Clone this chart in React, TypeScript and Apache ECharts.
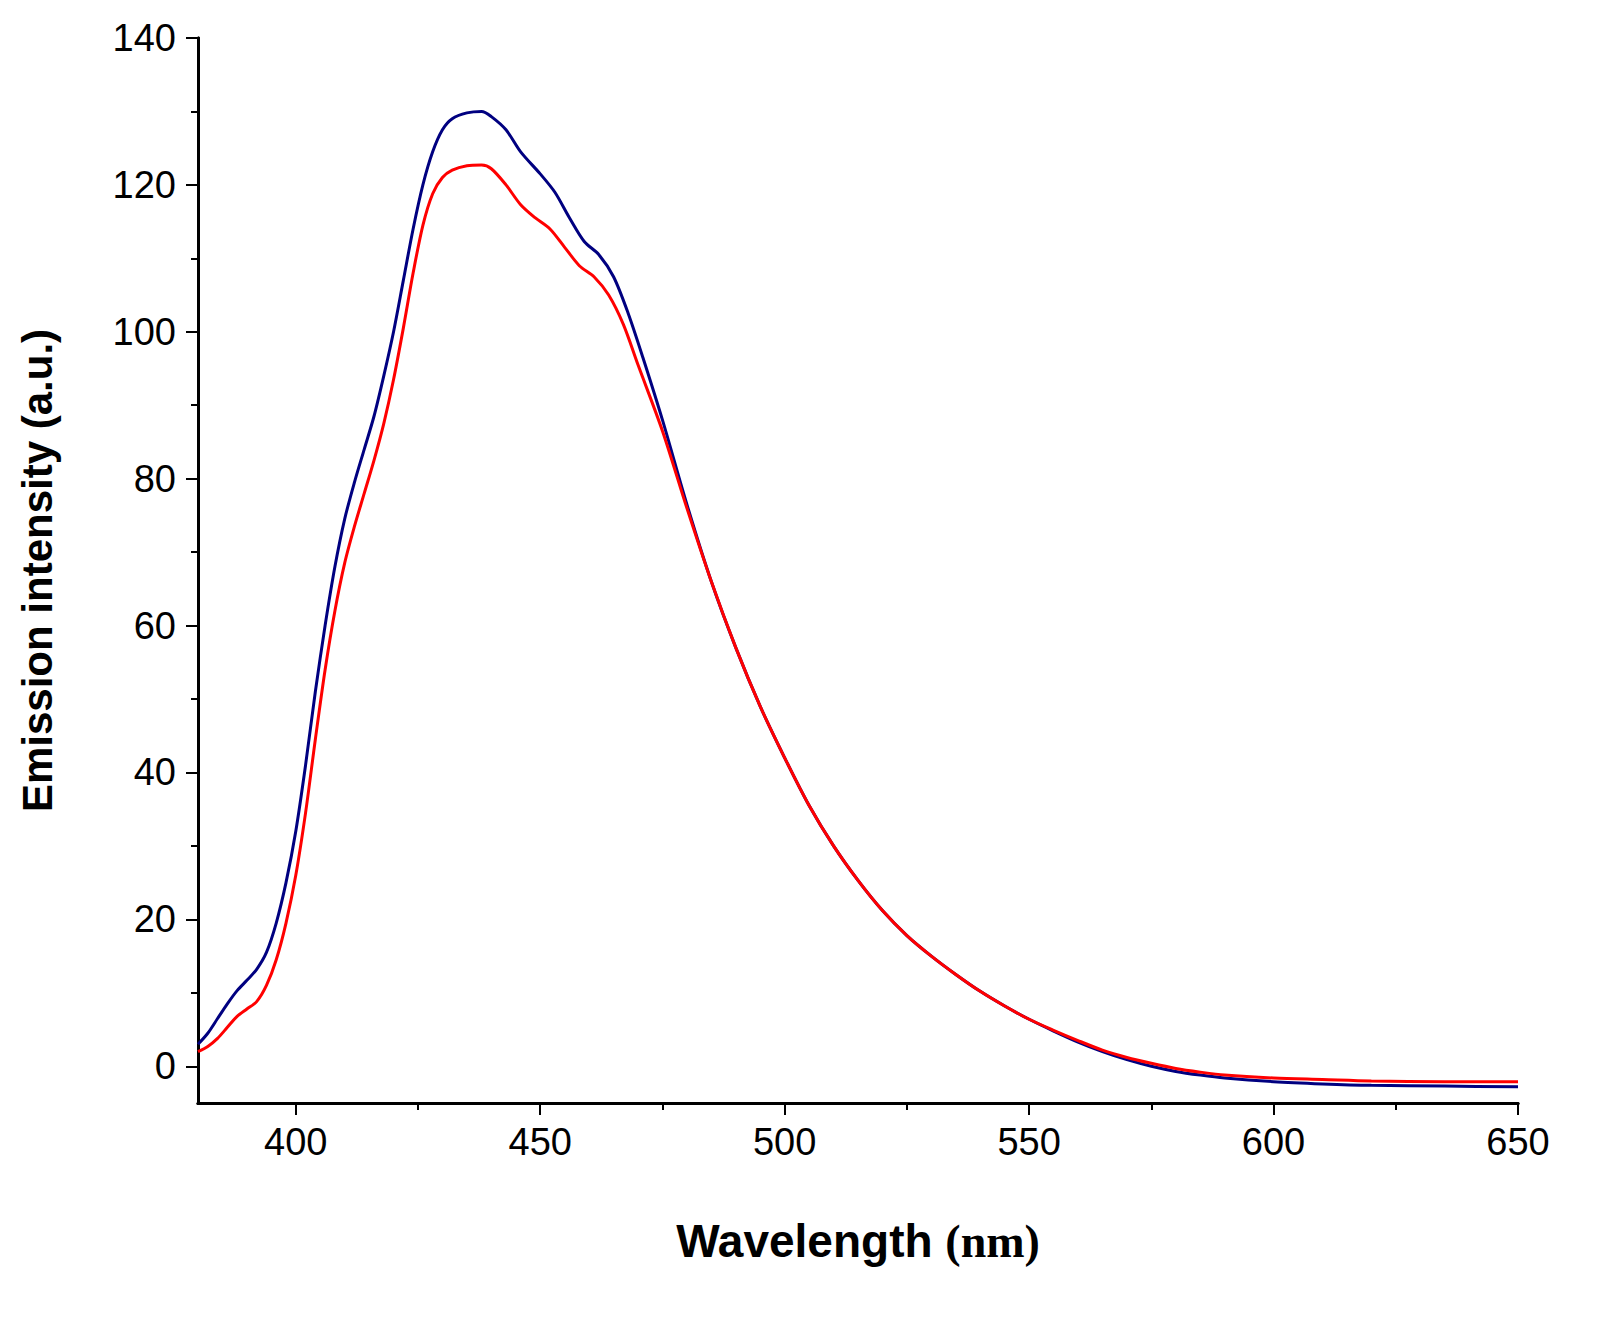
import * as echarts from "echarts";
import { useEffect, useRef } from "react";

const blue: Array<[number, number]> = [
  [380, 3], [382, 4.5], [384, 6.5], [386, 8.5], [388, 10.3], [390, 11.7], [392, 13.2], [394, 15.5],
  [396, 19.5], [398, 25], [400, 32], [402, 41], [404, 51], [406, 60], [408, 68], [410, 74.5],
  [412, 79.5], [414, 84], [416, 88.5], [418, 94], [420, 100], [422, 107], [424, 114], [426, 120],
  [428, 124.5], [430, 127.5], [432, 129], [435, 129.8], [438, 130], [440, 129.3], [443, 127.5],
  [446, 124.5], [450, 121.5], [453, 119], [456, 115.5], [459, 112.3], [462, 110.5], [465, 107.5],
  [468, 102.5], [471, 96.5], [475, 88], [480, 76.5], [485, 66], [490, 57], [495, 49], [500, 42],
  [505, 35.5], [510, 30], [515, 25.3], [520, 21.2], [525, 17.8], [530, 15], [535, 12.5], [540, 10.2],
  [545, 8.2], [550, 6.4], [555, 4.8], [560, 3.3], [565, 2], [570, 0.9], [575, 0], [580, -0.7],
  [585, -1.2], [590, -1.6], [600, -2.1], [610, -2.4], [620, -2.6], [635, -2.7], [650, -2.8],
];

const red: Array<[number, number]> = [
  [380, 2], [382, 2.7], [384, 3.8], [386, 5.3], [388, 6.8], [390, 7.8], [392, 8.8], [394, 11],
  [396, 14.5], [398, 19.5], [400, 26], [402, 34.5], [404, 44.5], [406, 54], [408, 62], [410, 68.5],
  [412, 73.5], [414, 78], [416, 82.5], [418, 87.5], [420, 93.5], [422, 100.5], [424, 108], [426, 114.5],
  [428, 118.8], [430, 121], [432, 122], [435, 122.6], [438, 122.7], [440, 122.2], [443, 120],
  [446, 117.3], [449, 115.5], [452, 114], [455, 111.5], [458, 109], [461, 107.5], [464, 105],
  [467, 101], [470, 95.5], [475, 86.5], [480, 76], [485, 66], [490, 57], [495, 49], [500, 42],
  [505, 35.5], [510, 30], [515, 25.3], [520, 21.2], [525, 17.8], [530, 15], [535, 12.5], [540, 10.2],
  [545, 8.2], [550, 6.4], [555, 4.9], [560, 3.5], [565, 2.2], [570, 1.2], [575, 0.4], [580, -0.3],
  [585, -0.8], [590, -1.2], [600, -1.6], [610, -1.8], [620, -2], [635, -2.1], [650, -2.1],
];

const X_MIN = 380;
const X_MAX = 650;
const Y_MIN = -5;
const Y_MAX = 140;
const xMajor = [400, 450, 500, 550, 600, 650];
const xMinor = [425, 475, 525, 575, 625];
const yMajor = [0, 20, 40, 60, 80, 100, 120, 140];
const yMinor = [10, 30, 50, 70, 90, 110, 130];

const black = "#000";
const labelFont = { color: black, fontSize: 38, fontFamily: "Liberation Sans, Arial" };

export default function App() {
  const ref = useRef<HTMLDivElement>(null);

  useEffect(() => {
    if (!ref.current) return;
    const chart = echarts.init(ref.current, undefined, { renderer: "svg" });
    const axisBase = {
      type: "value" as const,
      axisLine: { show: true, onZero: false, lineStyle: { color: black, width: 3 } },
      splitLine: { show: false },
    };
    chart.setOption({
      animation: false,
      backgroundColor: "#fff",
      grid: { left: 187, top: 30, right: 85, bottom: 216 },
      xAxis: [
        {
          ...axisBase,
          min: X_MIN,
          max: X_MAX,
          axisTick: { show: true, length: 12, customValues: xMajor, lineStyle: { color: black, width: 2 } },
          axisLabel: { ...labelFont, margin: 20, customValues: xMajor },
          name: "{a|Wavelength }{b|(nm)}",
          nameLocation: "middle",
          nameGap: 115,
          nameTextStyle: {
            rich: {
              a: { fontSize: 46, fontWeight: "bold", fontFamily: "Liberation Sans, Arial", color: black },
              b: { fontSize: 46, fontWeight: "bold", fontFamily: "Liberation Serif, Times New Roman", color: black },
            },
          },
        },
        {
          ...axisBase,
          position: "bottom",
          min: X_MIN,
          max: X_MAX,
          axisTick: { show: true, length: 7, customValues: xMinor, lineStyle: { color: black, width: 2 } },
          axisLabel: { show: false },
        },
      ],
      yAxis: [
        {
          ...axisBase,
          min: Y_MIN,
          max: Y_MAX,
          axisTick: { show: true, length: 12, customValues: yMajor, lineStyle: { color: black, width: 2 } },
          axisLabel: { ...labelFont, margin: 22, customValues: yMajor },
          name: "Emission intensity (a.u.)",
          nameLocation: "middle",
          nameGap: 140,
          nameTextStyle: { fontSize: 42, fontWeight: "bold", fontFamily: "Liberation Sans, Arial", color: black },
        },
        {
          ...axisBase,
          position: "left",
          min: Y_MIN,
          max: Y_MAX,
          axisTick: { show: true, length: 7, customValues: yMinor, lineStyle: { color: black, width: 2 } },
          axisLabel: { show: false },
        },
      ],
      series: [
        { type: "line", data: blue, smooth: 0.3, showSymbol: false, lineStyle: { color: "#000080", width: 3 } },
        { type: "line", data: red, smooth: 0.3, showSymbol: false, lineStyle: { color: "#ff0000", width: 3 } },
      ],
    });
    return () => chart.dispose();
  }, []);

  return <div ref={ref} style={{ width: 1595, height: 1311 }} />;
}
